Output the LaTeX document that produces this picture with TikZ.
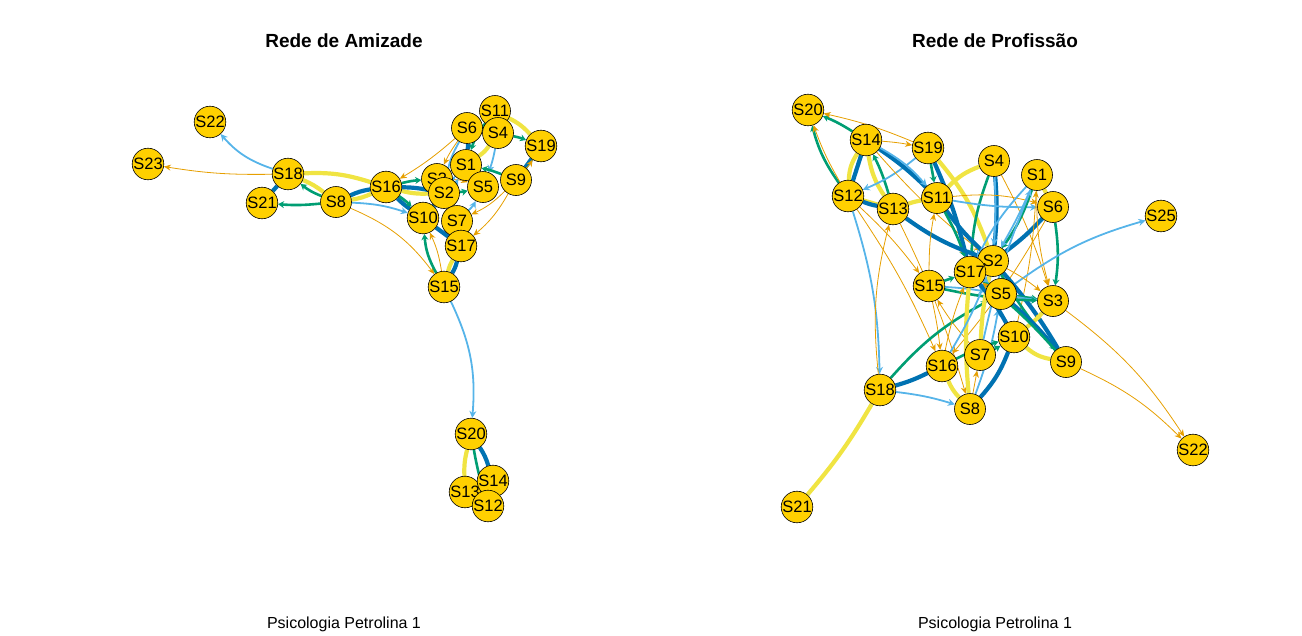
\documentclass[tikz,border=0pt]{standalone}
\usepackage{fontspec}
\setmainfont{Liberation Sans}
\usetikzlibrary{arrows.meta,backgrounds}
\definecolor{nfill}{HTML}{FFD000}
\definecolor{cor}{HTML}{E69F00}
\definecolor{clb}{HTML}{56B4E9}
\definecolor{cgr}{HTML}{009E73}
\definecolor{cye}{HTML}{F0E442}
\definecolor{cdb}{HTML}{0072B2}
\tikzset{
  vert/.style={circle,draw=black,line width=0.6pt,fill=nfill,minimum size=31pt,inner sep=0pt,font=\fontsize{16.5}{16.5}\selectfont},
  eo/.style={draw=cor,line width=0.8pt,-{Stealth[length=7pt,width=6pt]}},
  eb/.style={draw=clb,line width=1.8pt,-{Stealth[length=7pt,width=7pt]}},
  eg/.style={draw=cgr,line width=2.6pt,-{Stealth[length=6pt,width=7pt]}},
  ey/.style={draw=cye,line width=4.2pt},
  ed/.style={draw=cdb,line width=4.2pt},
  ttl/.style={font=\bfseries\fontsize{19}{19}\selectfont},
  captxt/.style={font=\fontsize{16}{16}\selectfont}
}
\begin{document}
\begin{tikzpicture}[x=1pt,y=-1pt]
\useasboundingbox (0,0) rectangle (1302,635);
\node[ttl] (t1) at (344,41) {Rede de Amizade};
\node[ttl] (t2) at (995,41) {Rede de Profissão};
\node[captxt] (c1) at (344,624) {Psicologia Petrolina 1};
\node[captxt] (c2) at (995,624) {Psicologia Petrolina 1};
% left nodes
\node[vert] (L22) at (210,122) {S22};
\node[vert] (L23) at (148,164) {S23};
\node[vert] (L18) at (288,174) {S18};
\node[vert] (L21) at (262,203) {S21};
\node[vert] (L8) at (336,202) {S8};
\node[vert] (L16) at (386,187) {S16};
\node[vert] (L6) at (467,128) {S6};
\node[vert] (L11) at (495,111) {S11};
\node[vert] (L4) at (498,133) {S4};
\node[vert] (L19) at (541,146) {S19};
\node[vert] (L1) at (466,165) {S1};
\node[vert] (L9) at (516,180) {S9};
\node[vert] (L5) at (483,187) {S5};
\node[vert] (L3) at (437,179) {S3};
\node[vert] (L2) at (444,193) {S2};
\node[vert] (L10) at (423,218) {S10};
\node[vert] (L7) at (457,221) {S7};
\node[vert] (L17) at (461,246) {S17};
\node[vert] (L15) at (444,287) {S15};
\node[vert] (L20) at (471,434) {S20};
\node[vert] (L13) at (465,492) {S13};
\node[vert] (L14) at (493,481) {S14};
\node[vert] (L12) at (488,506) {S12};
% right nodes
\node[vert] (R20) at (808,110) {S20};
\node[vert] (R14) at (866,140) {S14};
\node[vert] (R19) at (928,148) {S19};
\node[vert] (R4) at (994,161) {S4};
\node[vert] (R1) at (1037,175) {S1};
\node[vert] (R6) at (1053,207) {S6};
\node[vert] (R25) at (1161,216) {S25};
\node[vert] (R12) at (848,196) {S12};
\node[vert] (R13) at (893,209) {S13};
\node[vert] (R11) at (937,198) {S11};
\node[vert] (R2) at (993,261) {S2};
\node[vert] (R17) at (970,272) {S17};
\node[vert] (R15) at (929,286) {S15};
\node[vert] (R5) at (1001,294) {S5};
\node[vert] (R3) at (1053,301) {S3};
\node[vert] (R10) at (1014,337) {S10};
\node[vert] (R9) at (1066,362) {S9};
\node[vert] (R16) at (942,366) {S16};
\node[vert] (R7) at (980,355) {S7};
\node[vert] (R18) at (880,390) {S18};
\node[vert] (R8) at (970,409) {S8};
\node[vert] (R22) at (1193,450) {S22};
\node[vert] (R21) at (797,507) {S21};
\begin{scope}[on background layer]
% left edges
\draw[eb] (L18) to[bend left=15] (L22);
\draw[eo] (L18) to[bend left=5] (L23);
\draw[ey] (L18) to[bend left=10] (L16);
\draw[ey] (L18) to[bend left=8] (L8);
\draw[eg] (L8) to[bend left=8] (L18);
\draw[ed] (L18) to (L21);
\draw[eg] (L8) to[bend left=5] (L21);
\draw[ed] (L8) to[bend left=8] (L16);
\draw[ey] (L16) to[bend left=8] (L8);
\draw[eb] (L8) to[bend left=8] (L10);
\draw[eo] (L8) to[bend left=15] (L15);
\draw[ey] (L16) to[bend right=8] (L2);
\draw[ed] (L16) to[bend left=5] (L2);
\draw[eg] (L16) to[bend left=5] (L3);
\draw[ed] (L16) to[bend right=5] (L10);
\draw[eg] (L16) to[bend left=5] (L10);
\draw[eo] (L6) to[bend left=5] (L16);
\draw[eo] (L6) to[bend right=5] (L3);
\draw[ed] (L6) to[bend left=5] (L1);
\draw[eb] (L6) to[bend right=10] (L2);
\draw[ey] (L11) to[bend left=10] (L19);
\draw[eg] (L4) to[bend left=5] (L19);
\draw[ey] (L4) to[bend left=10] (L1);
\draw[eg] (L11) to[bend right=10] (L1);
\draw[eb] (L4) to[bend left=5] (L5);
\draw[ed] (L9) to (L19);
\draw[eo] (L9) to[bend right=5] (L19);
\draw[eg] (L9) to[bend right=5] (L1);
\draw[eo] (L9) to[bend left=10] (L7);
\draw[eo] (L9) to[bend left=10] (L17);
\draw[ey] (L15) to[bend left=8] (L17);
\draw[ed] (L15) to[bend right=8] (L17);
\draw[eg] (L15) to[bend left=12] (L10);
\draw[eo] (L15) to[bend right=8] (L10);
\draw[eb] (L15) to[bend left=15] (L20);
\draw[ed] (L10) to (L17);
\draw[eo] (L17) to[bend left=10] (L2);
\draw[eo] (L3) to[bend left=8] (L5);
\draw[eo] (L1) to[bend right=5] (L3);
\draw[eb] (L2) to[bend left=5] (L1);
\draw[eb] (L10) to[bend right=10] (L1);
\draw[eg] (L2) to[bend right=5] (L5);
\draw[ed] (L2) to (L10);
\draw[eb] (L7) to[bend right=10] (L5);
\draw[ey] (L20) to[bend right=8] (L13);
\draw[eg] (L20) to[bend right=3] (L12);
\draw[ed] (L20) to[bend left=8] (L14);
% right edges
\draw[eg] (R14) to[bend right=5] (R20);
\draw[eg] (R12) to[bend left=10] (R20);
\draw[eo] (R19) to[bend right=5] (R20);
\draw[eo] (R12) to[bend left=5] (R20);
\draw[eo] (R14) to[bend left=3] (R19);
\draw[ey] (R14) to[bend right=15] (R12);
\draw[ed] (R14) to (R12);
\draw[ey] (R13) to[bend left=12] (R14);
\draw[eg] (R13) to[bend right=5] (R14);
\draw[eb] (R19) to[bend left=8] (R12);
\draw[ey] (R12) to (R13);
\draw[ed] (R13) to[bend left=5] (R12);
\draw[ey] (R13) to[bend left=5] (R11);
\draw[ed] (R14) to[bend left=5] (R11);
\draw[eb] (R14) to[bend left=10] (R11);
\draw[eo] (R14) to[bend right=5] (R2);
\draw[eg] (R19) to (R11);
\draw[ed] (R19) to[bend left=5] (R17);
\draw[ey] (R19) to[bend left=10] (R2);
\draw[ey] (R4) to[bend right=12] (R11);
\draw[eg] (R4) to[bend right=8] (R17);
\draw[ed] (R4) to[bend left=5] (R2);
\draw[eb] (R4) to[bend left=3] (R2);
\draw[eo] (R4) to[bend left=5] (R3);
\draw[eo] (R11) to[bend left=10] (R6);
\draw[eb] (R11) to[bend right=5] (R6);
\draw[eo] (R11) to[bend left=5] (R17);
\draw[ed] (R11) to[bend right=5] (R2);
\draw[eg] (R11) to[bend left=5] (R17);
\draw[ed] (R13) to[bend right=8] (R2);
\draw[eb] (R12) to[bend left=8] (R18);
\draw[eo] (R12) to[bend left=5] (R15);
\draw[eo] (R12) to[bend left=5] (R16);
\draw[eo] (R13) to[bend left=5] (R8);
\draw[eo] (R15) to[bend left=5] (R11);
\draw[eo] (R18) to[bend left=10] (R13);
\draw[eg] (R1) to[bend left=8] (R2);
\draw[eb] (R1) to[bend left=3] (R2);
\draw[eb] (R1) to[bend right=8] (R17);
\draw[ey] (R1) to (R6);
\draw[ed] (R6) to[bend left=5] (R2);
\draw[eg] (R6) to[bend left=8] (R3);
\draw[eo] (R6) to[bend left=5] (R16);
\draw[eo] (R1) to[bend right=8] (R3);
\draw[eo] (R10) to[bend right=5] (R1);
\draw[eb] (R5) to[bend left=10] (R25);
\draw[eo] (R2) to[bend left=5] (R3);
\draw[ed] (R2) to[bend left=5] (R9);
\draw[eg] (R2) to[bend right=5] (R9);
\draw[eg] (R5) to (R3);
\draw[eb] (R5) to[bend right=3] (R3);
\draw[eo] (R10) to[bend right=5] (R3);
\draw[ey] (R10) to[bend right=5] (R3);
\draw[ey] (R10) to[bend right=15] (R9);
\draw[ed] (R5) to[bend left=5] (R9);
\draw[eo] (R15) to[bend left=3] (R16);
\draw[eg] (R15) to (R17);
\draw[eb] (R15) to[bend left=3] (R5);
\draw[eg] (R15) to[bend right=5] (R3);
\draw[eo] (R7) to[bend left=5] (R15);
\draw[eg] (R7) to[bend right=5] (R10);
\draw[ed] (R16) to[bend left=5] (R18);
\draw[eg] (R18) to[bend left=10] (R5);
\draw[eb] (R18) to[bend left=5] (R8);
\draw[ey] (R18) to[bend left=5] (R21);
\draw[ey] (R16) to[bend right=10] (R8);
\draw[eo] (R8) to (R7);
\draw[ed] (R8) to[bend right=10] (R10);
\draw[ey] (R8) to[bend left=5] (R17);
\draw[eb] (R8) to[bend right=5] (R5);
\draw[eb] (R16) to[bend right=5] (R2);
\draw[eo] (R16) to[bend left=5] (R17);
\draw[eg] (R16) to[bend left=5] (R10);
\draw[ey] (R7) to[bend left=5] (R2);
\draw[eo] (R3) to[bend left=10] (R22);
\draw[eo] (R9) to[bend left=10] (R22);
\draw[eb] (R17) to[bend left=5] (R5);
\draw[ed] (R17) to[bend left=5] (R10);
\draw[eg] (R9) to[bend right=5] (R17);
\draw[eo] (R5) to[bend left=5] (R17);
\draw[eb] (R7) to[bend left=5] (R1);
\end{scope}
\end{tikzpicture}
\end{document}
